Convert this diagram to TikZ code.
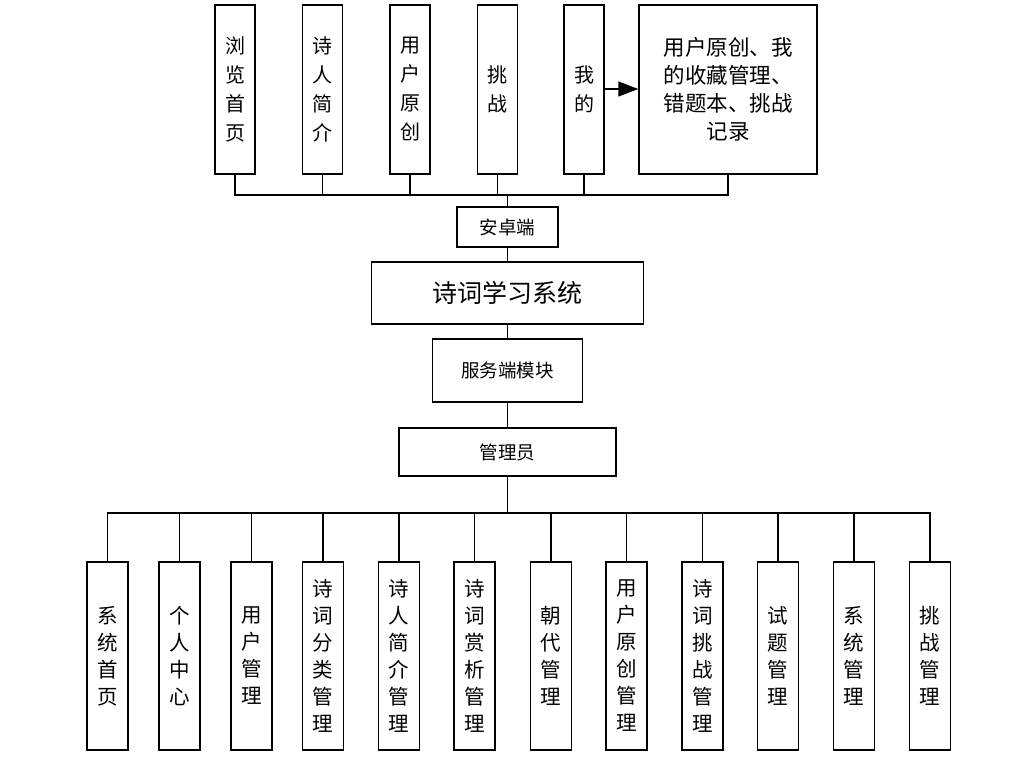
\documentclass[tikz,border=0pt]{standalone}
\usepackage{fontspec}
\newfontfamily\cjk{Noto Sans CJK SC}
\usetikzlibrary{arrows.meta}
\tikzset{
  box/.style={draw, line width=1.5pt, inner sep=0pt, align=center, font=\cjk\fontsize{20}{29}\selectfont},
  vbox/.style={box, minimum width=40pt, minimum height=169pt},
  bbox/.style={box, minimum width=41pt, minimum height=188pt, font=\cjk\fontsize{20.5}{27}\selectfont},
  hbox/.style={box, font=\cjk\fontsize{18.5}{22}\selectfont},
  wire/.style={line width=1.5pt},
}
\begin{document}
\begin{tikzpicture}[x=1pt,y=-1pt]
\fill[white] (0,0) rectangle (1024,760);
\useasboundingbox (0,0) rectangle (1024,760);
% top row
\node[vbox] (t1) at (235,89.5) {浏\\览\\首\\页};
\node[vbox] (t2) at (322.5,89.5) {诗\\人\\简\\介};
\node[vbox] (t3) at (410,89.5) {用\\户\\原\\创};
\node[vbox] (t4) at (497.5,89.5) {挑\\战};
\node[vbox] (t5) at (584,89.5) {我\\的};
\node[box, minimum width=178pt, minimum height=169pt, text width=160pt, font=\cjk\fontsize{21.5}{28}\selectfont] (t6) at (728,89.5) {用户原创、我\\的收藏管理、\\错题本、挑战\\记录};
\draw[wire, -{Triangle[length=20pt,width=15pt]}] (t5.east |- 0,89) -- (t6.west |- 0,89);
\coordinate (jt) at (507.5,195);
\foreach \n in {t1,t2,t3,t4,t5,t6} \draw[wire] (\n.south) |- (jt);
% middle chain
\node[hbox, minimum width=101pt, minimum height=40pt] (ant) at (507.5,227) {安卓端};
\node[box, minimum width=272pt, minimum height=62pt, font=\cjk\fontsize{25}{30}\selectfont] (sys) at (507.5,293) {诗词学习系统};
\node[hbox, minimum width=150pt, minimum height=63pt] (srv) at (507.5,370.5) {服务端模块};
\node[hbox, minimum width=217pt, minimum height=48pt] (adm) at (507.5,452) {管理员};
\draw[wire] (jt) -- (ant.north);
\draw[wire] (ant.south) -- (sys.north);
\draw[wire] (sys.south) -- (srv.north);
\draw[wire] (srv.south) -- (adm.north);
% bottom row
\node[bbox] (b1) at (107.5,656) {系\\统\\首\\页};
\node[bbox] (b2) at (179.5,656) {个\\人\\中\\心};
\node[bbox] (b3) at (251.5,656) {用\\户\\管\\理};
\node[bbox] (b4) at (323,656) {诗\\词\\分\\类\\管\\理};
\node[bbox] (b5) at (399,656) {诗\\人\\简\\介\\管\\理};
\node[bbox] (b6) at (474.5,656) {诗\\词\\赏\\析\\管\\理};
\node[bbox] (b7) at (551,656) {朝\\代\\管\\理};
\node[bbox] (b8) at (626.5,656) {用\\户\\原\\创\\管\\理};
\node[bbox] (b9) at (702.5,656) {诗\\词\\挑\\战\\管\\理};
\node[bbox] (b10) at (778,656) {试\\题\\管\\理};
\node[bbox] (b11) at (854,656) {系\\统\\管\\理};
\node[bbox] (b12) at (930,656) {挑\\战\\管\\理};
\coordinate (jb) at (507.5,513);
\draw[wire] (adm.south) -- (jb);
\foreach \n in {b1,b2,b3,b4,b5,b6,b7,b8,b9,b10,b11,b12} \draw[wire] (\n.north) |- (jb);
\end{tikzpicture}
\end{document}
